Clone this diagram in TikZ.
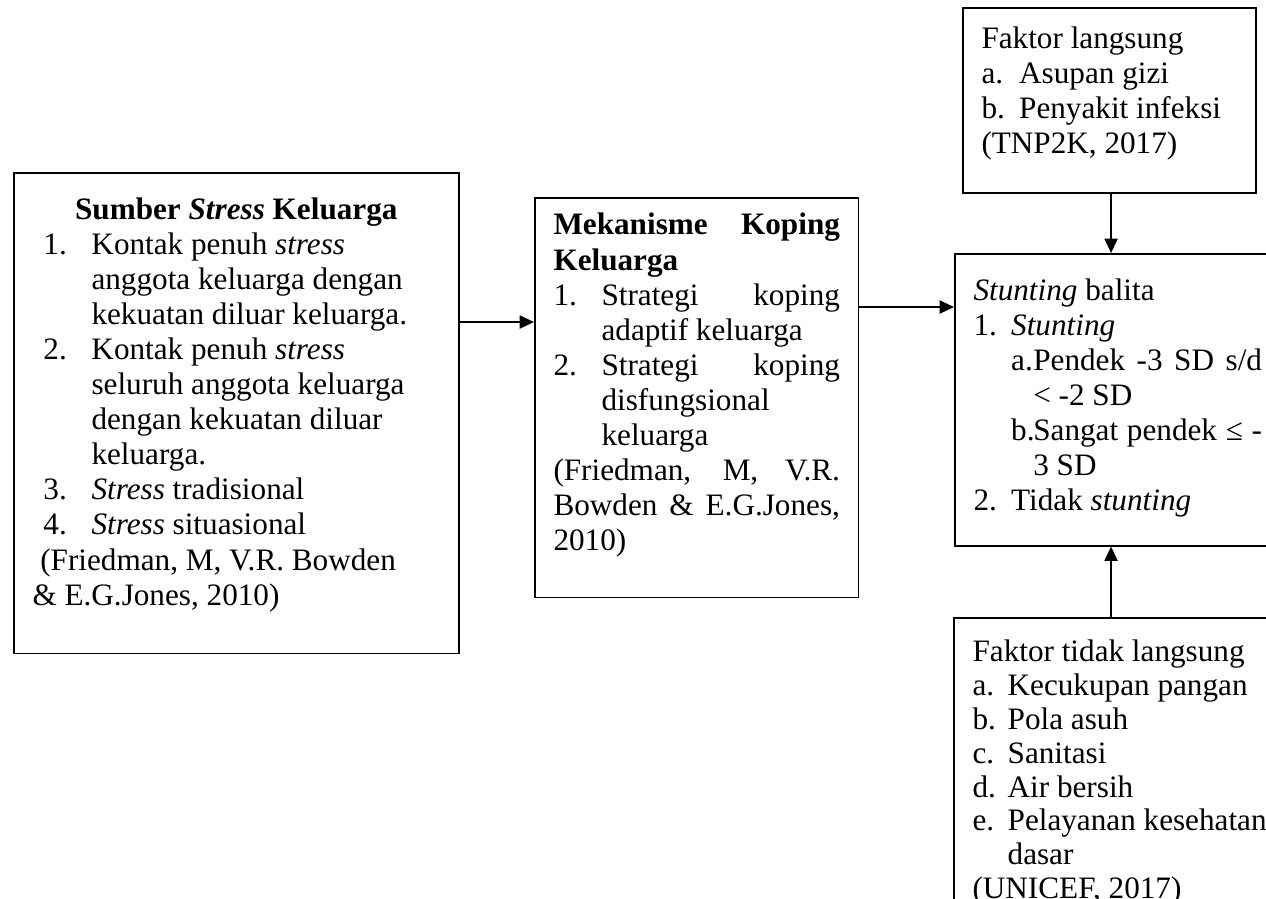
\documentclass[tikz,border=0pt]{standalone}
\usepackage{fontspec}
\setmainfont{Liberation Serif}
\usepackage{tikz}
\usetikzlibrary{arrows.meta}
\hyphenpenalty=10000
\newcommand{\isikotak}[5][\raggedright]{\parbox[t][#3][t]{#2}{#1\rule{0pt}{#4}\ignorespaces#5}}
\newcommand{\butir}[4][0pt]{\par\noindent\hangindent=\dimexpr#1+#2\relax\hangafter=1\hspace*{#1}\makebox[#2][l]{#3}#4\par}

\begin{document}
\begin{tikzpicture}[
    kotak/.style={draw, line width=0.6pt, inner xsep=7.2pt, inner ysep=3.6pt, anchor=north west, font=\fontsize{12}{13.5}\selectfont},
    panah/.style={-{Triangle[length=5.5pt,width=5pt]}, line width=0.75pt}
  ]
    \useasboundingbox (0,0) rectangle (17.117,-12.155);
    \clip (0,0) rectangle (17.117,-12.155);

    \node[kotak] (sumber) at (0.176,-2.326) {\isikotak{156.8pt}{177.8pt}{14.2pt}{%
      {\centering\textbf{Sumber \textit{Stress} Keluarga}\par}
      \butir[4.2pt]{18.5pt}{1.}{Kontak penuh \textit{stress}\newline anggota keluarga dengan\newline kekuatan diluar keluarga.}
      \butir[4.2pt]{18.5pt}{2.}{Kontak penuh \textit{stress}\newline seluruh anggota keluarga\newline dengan kekuatan diluar\newline keluarga.}
      \butir[4.2pt]{18.5pt}{3.}{\textit{Stress} tradisional}
      \butir[4.2pt]{18.5pt}{4.}{\textit{Stress} situasional}
      \noindent\hspace*{3pt}(Friedman, M, V.R. Bowden\newline \& E.G.Jones, 2010)}};
    \node[kotak] (koping) at (7.220,-2.664) {\isikotak[]{110.2pt}{146.6pt}{10.7pt}{%
      \noindent\textbf{Mekanisme Koping\linebreak Keluarga}\par
      \butir{18.5pt}{1.}{Strategi koping\linebreak adaptif keluarga}
      \butir{18.5pt}{2.}{Strategi koping\linebreak disfungsional\newline keluarga}
      \noindent(Friedman, M, V.R.\linebreak Bowden \& E.G.Jones,\linebreak 2010)}};
    \node[kotak] (langsung) at (13.007,-0.095) {\isikotak{98.3pt}{64.0pt}{11.9pt}{%
      Faktor langsung\par
      \butir{14.5pt}{a.}{Asupan gizi}
      \butir{14.5pt}{b.}{Penyakit infeksi}
      \noindent(TNP2K, 2017)}};
    \node[kotak] (stunting) at (12.899,-3.421) {\isikotak[]{111pt}{105.1pt}{14.2pt}{%
      \noindent\textit{Stunting} balita\par
      \butir{14.5pt}{1.}{\textit{Stunting}}
      \butir[14.5pt]{8.5pt}{a.}{Pendek -3 SD s/d\linebreak < -2 SD}
      \butir[14.5pt]{8.5pt}{b.}{Sangat pendek ≤ -\linebreak 3 SD}
      \butir{14.5pt}{2.}{Tidak \textit{stunting}}}};
    \node[kotak, font=\fontsize{12}{13}\selectfont] (taklangsung) at (12.886,-8.342) {\isikotak{120pt}{113.2pt}{13.4pt}{%
      Faktor tidak langsung\par
      \butir{13.5pt}{a.}{Kecukupan pangan}
      \butir{13.5pt}{b.}{Pola asuh}
      \butir{13.5pt}{c.}{Sanitasi}
      \butir{13.5pt}{d.}{Air bersih}
      \butir{13.5pt}{e.}{Pelayanan kesehatan\newline dasar}
      \noindent(UNICEF, 2017)}};

    \draw[panah] (sumber.east |- 0,-4.354) -- (koping.west |- 0,-4.354);
    \draw[panah] (koping.east |- 0,-4.151) -- (stunting.west |- 0,-4.151);
    \draw[panah] (langsung.south -| 15.022,0) -- (stunting.north -| 15.022,0);
    \draw[panah] (taklangsung.north -| 15.022,0) -- (stunting.south -| 15.022,0);
  \end{tikzpicture}
\end{document}
